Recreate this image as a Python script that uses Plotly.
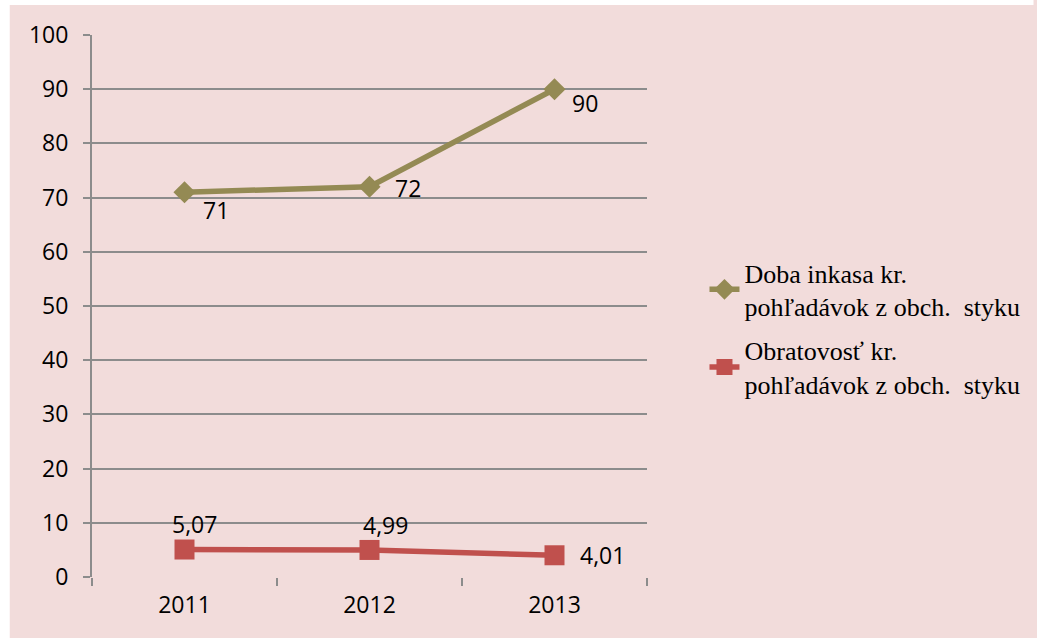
import plotly.graph_objects as go

years = ["2011", "2012", "2013"]
doba_inkasa = [71, 72, 90]
obratovost = [5.07, 4.99, 4.01]
series_names = [
    "Doba inkasa kr.<br>pohľadávok z obch.&nbsp; styku",
    "Obratovosť kr.<br>pohľadávok z obch.&nbsp; styku",
]
y_ticks = list(range(0, 101, 10))

OLIVE = "#948A54"
RED = "#C0504D"
GRID = "#8C8C8C"
PINK = "#F2DCDB"
TICK_FONT = dict(family="Open Sans, Lato, sans-serif", size=23, color="#000000")

fig = go.Figure()
fig.add_trace(go.Scatter(
    x=years, y=doba_inkasa, name=series_names[0], mode="lines+markers",
    legendgroup="a",
    line=dict(color=OLIVE, width=5.5),
    marker=dict(symbol="diamond", size=17, color=OLIVE),
))
fig.add_trace(go.Scatter(
    x=years, y=obratovost, name=series_names[1], mode="lines+markers",
    legendgroup="b",
    line=dict(color=RED, width=5.5),
    marker=dict(symbol="square", size=20, color=RED),
))

# data label offsets in pixels relative to the point (style, not data)
label_shift_a = [(31, -18), (38, -1), (30, -14)]
label_shift_b = [(10, 26), (16, 25), (48, 0)]

def fmt(v):
    s = f"{v:g}" if float(v).is_integer() else f"{v:.2f}"
    return s.replace(".", ",")

annotations = []
for vals, shifts in ((doba_inkasa, label_shift_a), (obratovost, label_shift_b)):
    for i, (yv, (dx, dy)) in enumerate(zip(vals, shifts)):
        annotations.append(dict(
            x=i, y=yv, xref="x", yref="y", text=fmt(yv), showarrow=False,
            xshift=dx, yshift=dy, font=TICK_FONT,
            xanchor="center", yanchor="middle",
        ))

W, H = 1037, 638
L, R, T, B = 92, W - 652, 35, H - 577
pw, ph = W - L - R, H - T - B

# white border strips (left and top) on a pink page
px = lambda p: (p - L) / pw
py = lambda p: (577 - p) / ph
shapes = [
    dict(type="rect", xref="paper", yref="paper", layer="below",
         x0=px(-5), x1=px(9), y0=py(H + 5), y1=py(-5),
         fillcolor="#FFFFFF", line=dict(width=0)),
    dict(type="rect", xref="paper", yref="paper", layer="below",
         x0=px(-5), x1=px(W + 5), y0=py(5), y1=py(-5),
         fillcolor="#FFFFFF", line=dict(width=0)),
]

fig.update_layout(
    width=W, height=H,
    margin=dict(l=L, r=R, t=T, b=B, pad=0),
    paper_bgcolor=PINK,
    plot_bgcolor=PINK,
    showlegend=True,
    legend=dict(
        x=px(710), xanchor="left",
        y=py(249), yanchor="top",
        bgcolor="rgba(0,0,0,0)",
        font=dict(family="Liberation Serif, Times New Roman, serif", size=26, color="#000000"),
        tracegroupgap=7,
    ),
    annotations=annotations,
    shapes=shapes,
    xaxis=dict(
        type="category", range=[-0.5, 2.5],
        showgrid=False, showline=False, zeroline=False,
        ticks="outside", tickson="boundaries", ticklen=8, tickwidth=2, tickcolor=GRID,
        tickfont=TICK_FONT, ticklabelstandoff=12,
    ),
    yaxis=dict(
        range=[0, 100], tickvals=y_ticks, showgrid=True, gridcolor=GRID, gridwidth=2,
        showline=True, linecolor=GRID, linewidth=2, zeroline=False,
        ticks="outside", ticklen=7, tickwidth=2, tickcolor=GRID,
        tickfont=TICK_FONT, ticklabelstandoff=10,
    ),
)

fig.write_html(
    "out.html",
    config={"displayModeBar": False, "responsive": False},
    post_script="document.documentElement.style.margin='0';document.body.style.margin='0';document.body.style.padding='0';",
)
